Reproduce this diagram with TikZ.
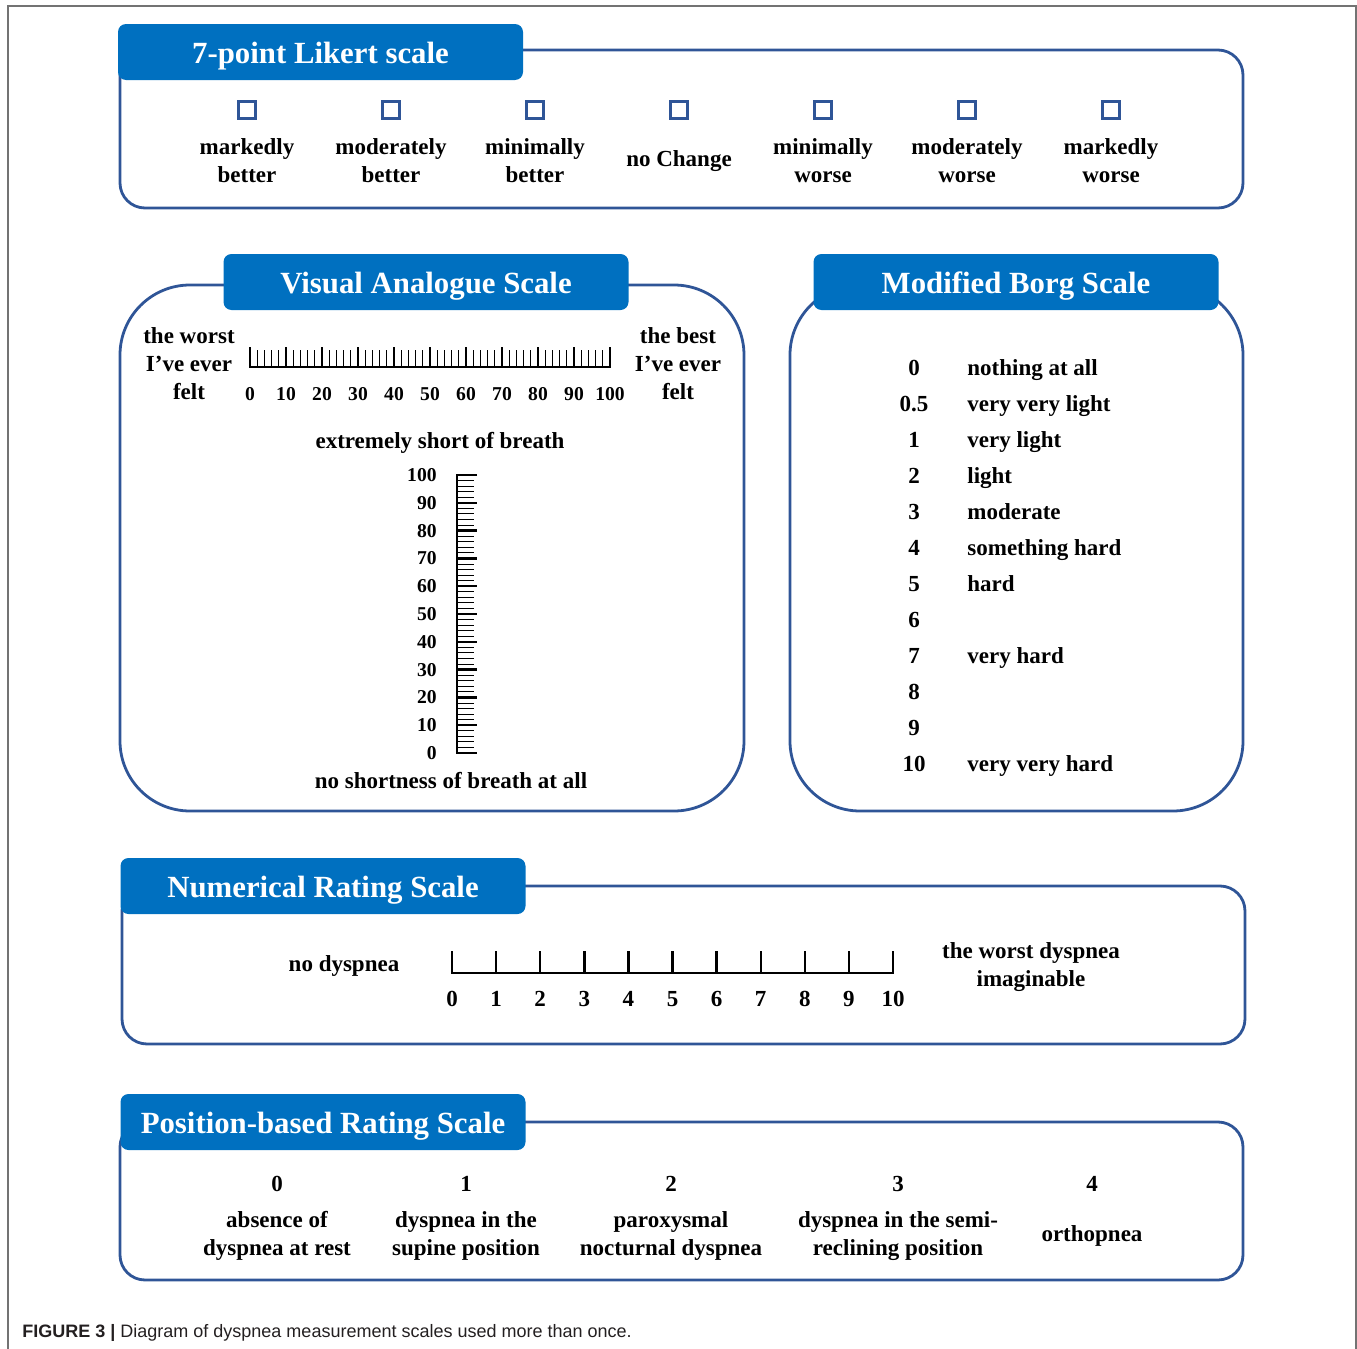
\documentclass[tikz,border=0pt]{standalone}
\usepackage{fontspec}
\setmainfont{Liberation Serif}
\newfontfamily\captionfont{Liberation Sans}
\definecolor{headBlue}{HTML}{0070C0}
\definecolor{lineBlue}{HTML}{2F5597}
\definecolor{captionGray}{HTML}{231F20}

\begin{document}
\begin{tikzpicture}[x = 0.5pt, y = -0.5pt]
	\tikzstyle{frameStyle} = [draw = black!55, line width = 0.8pt]
	\tikzstyle{panelStyle} = [draw = lineBlue, line width = 1.4pt]
	\tikzstyle{headStyle} = [fill = headBlue, rounded corners = 4pt, minimum width = 202.5pt, minimum height = 28pt, text height = 14pt, text depth = 3pt, text = white, font = \fontsize{15.4}{18}\selectfont\bfseries]
	\tikzstyle{textStyle} = [align = center, inner sep = 0pt, font = \fontsize{11.5}{14}\selectfont\bfseries]
	\tikzstyle{numStyle} = [inner sep = 0pt, font = \fontsize{9.8}{12}\selectfont\bfseries]
	\tikzstyle{boxStyle} = [draw = lineBlue, line width = 1.3pt, minimum size = 8.6pt, inner sep = 0pt]
	\tikzstyle{majorStyle} = [line width = 1.2pt]
	\tikzstyle{minorStyle} = [line width = 0.45pt]
	\useasboundingbox (0,0) rectangle (1357,1349);
	\draw[frameStyle] (8,1349) -- (8,6) -- (1356,6) -- (1356,1349);
	% panels
	\draw[panelStyle, rounded corners = 12.5pt] (120,50) rectangle (1243,208);
	\draw[panelStyle, rounded corners = 35pt] (120,285) rectangle (744,811);
	\draw[panelStyle, rounded corners = 35pt] (790,285) rectangle (1243,811);
	\draw[panelStyle, rounded corners = 12.5pt] (122,886) rectangle (1245,1044);
	\draw[panelStyle, rounded corners = 12.5pt] (120,1122) rectangle (1243,1280);
	\node[headStyle] (likertHead) at (320.5,52) {7-point Likert scale};
	\node[headStyle] (vasHead) at (426,282) {Visual Analogue Scale};
	\node[headStyle] (borgHead) at (1016,282) {Modified Borg Scale};
	\node[headStyle] (nrsHead) at (323,886) {Numerical Rating Scale};
	\node[headStyle] (pbrsHead) at (323,1122) {Position-based Rating Scale};
	% likert
	\foreach \k in {0,...,6}
		\node[boxStyle] (box\k) at ({247+144*\k},110) {};
	\node[textStyle] (lik0) at (247,161) {markedly\\better};
	\node[textStyle] (lik1) at (391,161) {moderately\\better};
	\node[textStyle] (lik2) at (535,161) {minimally\\better};
	\node[textStyle] (lik3) at (679,161) {no Change};
	\node[textStyle] (lik4) at (823,161) {minimally\\worse};
	\node[textStyle] (lik5) at (967,161) {moderately\\worse};
	\node[textStyle] (lik6) at (1111,161) {markedly\\worse};
	% visual analogue scale
	\node[textStyle] (worstFelt) at (189,364) {the worst\\I’ve ever\\felt};
	\node[textStyle] (bestFelt) at (678,364) {the best\\I’ve ever\\felt};
	\foreach \n in {2,4,...,98}
		\draw[minorStyle] ({250+3.6*\n},350) -- ({250+3.6*\n},367);
	\foreach \n in {10,20,...,90}
		\draw[majorStyle] ({250+3.6*\n},347) -- ({250+3.6*\n},367);
	\draw[majorStyle] (250,347) -- (250,367) -- (610,367) -- (610,347);
	\foreach \n in {0,10,...,100}
		\node[numStyle] (h\n) at ({250+3.6*\n},394) {\n};
	\node[textStyle] (shortBreath) at (440,443) {extremely short of breath};
	\foreach \n in {2,4,...,98}
		\draw[minorStyle] (457,{753-2.78*\n}) -- (474,{753-2.78*\n});
	\foreach \n in {10,20,...,90}
		\draw[majorStyle] (457,{753-2.78*\n}) -- (477,{753-2.78*\n});
	\draw[majorStyle] (477,475) -- (457,475) -- (457,753) -- (477,753);
	\foreach \n in {0,10,...,100}
		\node[numStyle, anchor = east] (v\n) at (437,{753-2.78*\n}) {\n};
	\node[textStyle] (noBreath) at (451,781) {no shortness of breath at all};
	% modified borg scale
	\foreach \v/\t [count = \k from 0] in {0/nothing at all, 0.5/very very light, 1/very light, 2/light, 3/moderate, 4/something hard, 5/hard, 6/, 7/very hard, 8/, 9/, 10/very very hard} {
		\node[textStyle, anchor = base] (borgNum\k) at (914,{375+36*\k}) {\v};
		\node[textStyle, anchor = base west] (borgText\k) at (967,{375+36*\k}) {\t};
	}
	% numerical rating scale
	\node[textStyle] (noDyspnea) at (344,966) {no dyspnea};
	\node[textStyle] (worstDyspnea) at (1031,967) {the worst dyspnea\\imaginable};
	\draw[majorStyle] (452,951) -- (452,973) -- (893,973) -- (893,951);
	\foreach \n in {1,...,9}
		\draw[majorStyle] ({452+44.1*\n},951) -- ({452+44.1*\n},973);
	\foreach \n in {0,...,10}
		\node[textStyle] (nrs\n) at ({452+44.1*\n},999) {\n};
	% position-based rating scale
	\node[textStyle] (pos0) at (277,1184) {0};
	\node[textStyle] (pos1) at (466,1184) {1};
	\node[textStyle] (pos2) at (671,1184) {2};
	\node[textStyle] (pos3) at (898,1184) {3};
	\node[textStyle] (pos4) at (1092,1184) {4};
	\node[textStyle] (posText0) at (277,1236) {absence of\\dyspnea at rest};
	\node[textStyle] (posText1) at (466,1236) {dyspnea in the\\supine position};
	\node[textStyle] (posText2) at (671,1236) {paroxysmal\\nocturnal dyspnea};
	\node[textStyle] (posText3) at (898,1236) {dyspnea in the semi-\\reclining position};
	\node[textStyle] (posText4) at (1092,1236) {orthopnea};
	% caption
	\node[anchor = base west, inner sep = 0pt, text = captionGray, font = \captionfont\fontsize{9}{11}\selectfont] (caption) at (22,1337) {\textbf{FIGURE 3 |} Diagram of dyspnea measurement scales used more than once.};
\end{tikzpicture}
\end{document}
